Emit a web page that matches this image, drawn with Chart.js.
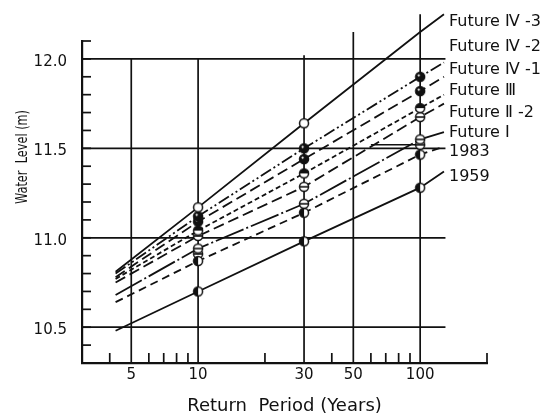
<!DOCTYPE html>
<html><head><meta charset="utf-8">
<script src="https://cdn.jsdelivr.net/npm/chart.js@4"></script>
<style>html,body{margin:0;padding:0;background:#fff}#wrap{width:553px;height:415px;position:relative}</style>
</head><body><div id="wrap"><canvas id="c"></canvas></div>
<script>
// ---- data ----
const xPositions   = [4.25, 10, 30, 100, 128];       // line start, return periods 10/30/100, line end
const xTickValues  = [5, 10, 30, 50, 100];
const xMinorTicks  = [4, 6, 7, 8, 9, 20, 40, 60, 70, 80, 90, 200];
const yTickValues  = [10.5, 11.0, 11.5, 12.0];
const seriesLabels = ['Future Ⅳ -3', 'Future Ⅳ -2', 'Future Ⅳ -1', 'Future Ⅲ', 'Future Ⅱ -2', 'Future Ⅰ', '1983', '1959'];
const futureIV3 = [10.81, 11.17, 11.64, 12.15, 12.25];
const futureIV2 = [10.80, 11.12, 11.50, 11.90, 11.98];
const futureIV1 = [10.78, 11.09, 11.44, 11.82, 11.90];
const futureIII = [10.77, 11.04, 11.36, 11.725, 11.80];
const futureII2 = [10.75, 11.01, 11.285, 11.675, 11.75];
const futureI   = [10.68, 10.94, 11.19, 11.55, 11.59];
const level1983 = [10.64, 10.87, 11.14, 11.465, 11.51];
const level1959 = [10.48, 10.70, 10.98, 11.28, 11.37];
const extraX = [10];        const extraY = [10.91];
const bracketX = [60, 100]; const bracketY = [11.52, 11.52];

// ---- styling ----
const INK = '#111';
function marker(kind){
  const c = document.createElement('canvas'); c.width = 12; c.height = 12;
  const g = c.getContext('2d'); const r = 4.5, cx = 6, cy = 6;
  g.fillStyle = '#fff'; g.beginPath(); g.arc(cx, cy, r, 0, 2*Math.PI); g.fill();
  g.fillStyle = INK;
  if (kind === 'dark') { g.beginPath(); g.arc(cx, cy, r, 0, 2*Math.PI); g.fill(); g.fillStyle='#fff'; g.beginPath(); g.arc(cx-1.4, cy-1.4, 1.1, 0, 2*Math.PI); g.fill(); }
  if (kind === 'top') { g.beginPath(); g.arc(cx, cy, r, Math.PI, 2*Math.PI); g.fill(); }
  if (kind === 'left') { g.beginPath(); g.arc(cx, cy, r, Math.PI/2, 3*Math.PI/2); g.fill(); }
  g.strokeStyle = INK; g.lineWidth = 1.5; g.beginPath(); g.arc(cx, cy, r, 0, 2*Math.PI); g.stroke();
  if (kind === 'theta') { g.lineWidth = 1.6; g.beginPath(); g.moveTo(cx-r, cy); g.lineTo(cx+r, cy); g.stroke(); }
  return c;
}
const seriesValues = [futureIV3, futureIV2, futureIV1, futureIII, futureII2, futureI, level1983, level1959];
const dashes = [[], [12,3,2,3,2,3], [11,5], [5,3], [11,5], [30,3,2,3], [8,5], []];
const markers = ['open','dark','dark','top','theta','theta','left','left'];
const ptR = [0, 5, 5, 5, 0];

const datasets = seriesValues.map((vals, i) => ({
  label: seriesLabels[i],
  data: vals.map((v, j) => ({x: xPositions[j], y: v})),
  showLine: true, borderColor: INK, borderWidth: 1.8, borderDash: dashes[i],
  pointRadius: ptR, pointStyle: marker(markers[i]), clip: false
}));
datasets.push({ label: 'extra', data: extraX.map((v,i)=>({x:v, y:extraY[i]})), showLine:false,
  pointRadius: 5, pointStyle: marker('theta'), clip:false });
datasets.push({ label: 'bracket', data: bracketX.map((v,i)=>({x:v, y:bracketY[i]})), showLine:true,
  borderColor: INK, borderWidth: 1.5, pointRadius: [0, 5], pointStyle: marker('theta'), clip:false });

const labelY = [22, 47, 70, 91, 113, 133, 152, 177];
const gridTops = {5: 12.0, 10: 12.0, 30: 12.02, 50: 12.15, 100: 12.25};

const decor = {
  id: 'decor',
  beforeDatasetsDraw(chart){
    const {ctx, scales:{x, y}} = chart;
    ctx.save();
    ctx.strokeStyle = INK; ctx.lineWidth = 1.7;
    const xr = x.getPixelForValue(130);
    yTickValues.forEach(v => { const py = y.getPixelForValue(v); ctx.beginPath(); ctx.moveTo(x.left, py); ctx.lineTo(xr, py); ctx.stroke(); });
    xTickValues.forEach(v => { const px = x.getPixelForValue(v); ctx.beginPath(); ctx.moveTo(px, y.bottom); ctx.lineTo(px, y.getPixelForValue(gridTops[v])); ctx.stroke(); });
    xMinorTicks.forEach(v => { const px = x.getPixelForValue(v); ctx.beginPath(); ctx.moveTo(px, y.bottom); ctx.lineTo(px, y.bottom - 10); ctx.stroke(); });
    for (let k = 104; k <= 121; k++) { const py = y.getPixelForValue(k/10); ctx.beginPath(); ctx.moveTo(x.left, py); ctx.lineTo(x.left + 9, py); ctx.stroke(); }
    ctx.restore();
  },
  afterDraw(chart){
    const {ctx} = chart;
    ctx.save();
    ctx.fillStyle = INK;
    ctx.font = '16px "DejaVu Sans"'; ctx.textAlign = 'left'; ctx.textBaseline = 'middle';
    seriesLabels.forEach((t, i) => ctx.fillText(t, 449, labelY[i]));
    const title = 'Water  Level (m)';
    ctx.translate(23, 157); ctx.rotate(-Math.PI/2);
    ctx.font = '16px "DejaVu Sans"'; ctx.textAlign = 'center';
    const w = ctx.measureText(title).width;
    ctx.scale(94 / w, 1);
    ctx.fillText(title, 0, 0);
    ctx.restore();
  }
};

new Chart(document.getElementById('c'), {
  type: 'scatter',
  data: { datasets },
  options: {
    responsive: true, maintainAspectRatio: false, animation: false,
    layout: { padding: { top: 41, right: 66, left: 0, bottom: 0 } },
    plugins: { legend: { display: false }, tooltip: { enabled: false } },
    scales: {
      x: {
        type: 'logarithmic', min: 3, max: 200,
        afterBuildTicks: s => { s.ticks = xTickValues.map(v => ({value: v})); },
        afterFit: s => { s.height = 52; },
        grid: { display: false, drawTicks: false },
        border: { display: true, color: INK, width: 2.2 },
        ticks: { autoSkip: false, maxRotation: 0, padding: 3, color: INK,
          font: { family: 'DejaVu Sans', size: 15 }, callback: v => String(v) },
        title: { display: true, text: 'Return  Period (Years)', color: INK,
          font: { family: 'DejaVu Sans', size: 18, lineHeight: 1 }, padding: { top: 0, bottom: 0 } }
      },
      y: {
        min: 10.3, max: 12.1,
        afterBuildTicks: s => { s.ticks = yTickValues.map(v => ({value: v})); },
        afterFit: s => { s.width = 82; },
        grid: { display: false, drawTicks: false },
        border: { display: true, color: INK, width: 2.2 },
        ticks: { padding: 15, labelOffset: 3, color: INK,
          font: { family: 'DejaVu Sans', size: 15 }, callback: v => Number(v).toFixed(1) }
      }
    }
  },
  plugins: [decor]
});
</script></body></html>
